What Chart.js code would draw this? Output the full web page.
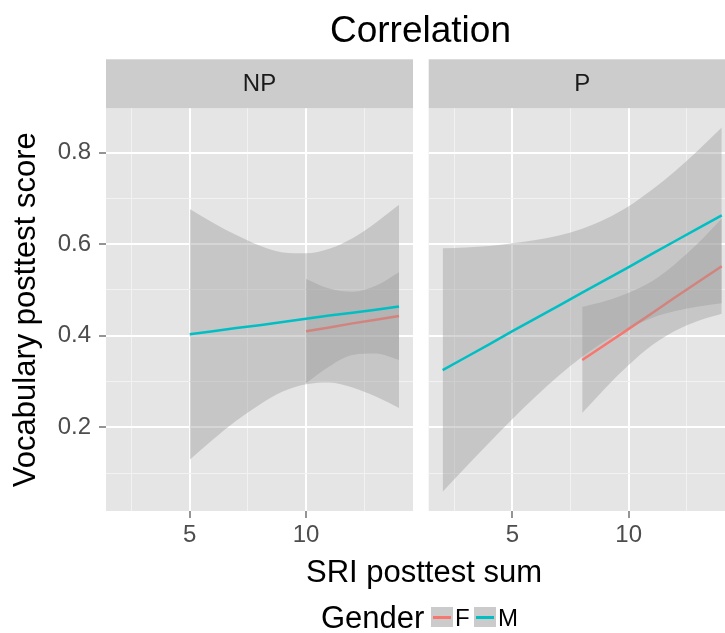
<!DOCTYPE html>
<html>
<head>
<meta charset="utf-8">
<title>Correlation</title>
<script src="https://cdn.jsdelivr.net/npm/chart.js@4.4.1/dist/chart.umd.min.js"></script>
<style>
    html, body { margin: 0; padding: 0; width: 725px; height: 633px; overflow: hidden; background: #fff; }
    body { position: relative; font-family: "Liberation Sans", Arial, sans-serif; }
    canvas { position: absolute; left: 0; top: 0; }
    .txt { position: absolute; line-height: 1; white-space: nowrap; }
    #title { left: 0; width: 841px; top: 11px; text-align: center; font-size: 37px; color: #000; }
    #xtitle { left: 0; width: 848px; top: 556px; text-align: center; font-size: 31px; color: #000; }
    #legendTitle { left: 321px; top: 602px; font-size: 31px; color: #000; }
    .key { position: absolute; width: 22px; height: 20px; background: #cbcbcb; top: 607px; }
    .key span { position: absolute; left: 2px; right: 2px; top: 9px; height: 2.5px; }
    .klabel { position: absolute; top: 606px; font-size: 24px; line-height: 1; color: #000; }
</style>
</head>
<body>
<canvas id="npChart" width="725" height="633"></canvas>
<canvas id="pChart" width="760" height="633"></canvas>
<div class="txt" id="title">Correlation</div>
<div class="txt" id="xtitle">SRI posttest sum</div>
<div class="txt" id="legendTitle">Gender</div>
<div id="legend"></div>

<script>
(() => {
    "use strict";

    // ====== Data ======
    const panels = ["NP", "P"];
    const seriesNames = ["F", "M"];
    const seriesColors = ["#F8766D", "#00BFC4"];

    const xMajor = [5, 10];
    const xMinor = [2.5, 7.5, 12.5];
    const yMajor = [0.2, 0.4, 0.6, 0.8];
    const yMinor = [0.1, 0.3, 0.5, 0.7];
    const xRange = [1.4, 14.6];
    const yRange = [0.017, 0.897];

    // NP panel - F
    const npF_x   = [10, 11, 12, 13, 14];
    const npF_fit = [0.410, 0.418, 0.427, 0.435, 0.443];
    const npF_hi  = [0.524, 0.503, 0.496, 0.509, 0.539];
    const npF_lo  = [0.296, 0.333, 0.358, 0.361, 0.347];

    // NP panel - M
    const npM_x   = [5, 6, 7, 8, 9, 10, 11, 12, 13, 14];
    const npM_fit = [0.403, 0.410, 0.417, 0.423, 0.430, 0.437, 0.444, 0.450, 0.457, 0.464];
    const npM_hi  = [0.677, 0.647, 0.620, 0.597, 0.582, 0.580, 0.590, 0.613, 0.647, 0.686];
    const npM_lo  = [0.129, 0.173, 0.214, 0.249, 0.278, 0.294, 0.298, 0.287, 0.267, 0.242];

    // P panel - F
    const pF_x   = [8, 9, 10, 11, 12, 13, 14];
    const pF_fit = [0.347, 0.381, 0.415, 0.449, 0.484, 0.518, 0.552];
    const pF_hi  = [0.463, 0.476, 0.494, 0.519, 0.557, 0.603, 0.656];
    const pF_lo  = [0.231, 0.286, 0.336, 0.379, 0.411, 0.433, 0.448];

    // P panel - M
    const pM_x   = [2, 3, 4, 5, 6, 7, 8, 9, 10, 11, 12, 13, 14];
    const pM_fit = [0.325, 0.353, 0.381, 0.410, 0.438, 0.466, 0.494, 0.522, 0.550, 0.579, 0.607, 0.635, 0.663];
    const pM_hi  = [0.591, 0.593, 0.596, 0.602, 0.609, 0.619, 0.634, 0.655, 0.683, 0.719, 0.760, 0.806, 0.855];
    const pM_lo  = [0.059, 0.113, 0.166, 0.218, 0.267, 0.313, 0.354, 0.389, 0.417, 0.439, 0.454, 0.464, 0.471];

    // ====== Styles ======
    const FONT = "'Liberation Sans', Arial, sans-serif";
    const PANEL_BG = "#E5E5E5";
    const STRIP_BG = "#CCCCCC";
    const BAND = "rgba(153,153,153,0.4)";
    const TICK_COLOR = "#4D4D4D";
    const STRIP_TOP = 59.3;
    const PANEL_TOP = 108.3;
    const XAXIS_H = 60;
    const PAD_BOTTOM = 633 - 511 - XAXIS_H;

    // ====== Helpers ======
    const pts = (xs, ys) => xs.map((x, i) => ({ x, y: ys[i] }));

    function groupSets(xs, fit, hi, lo, color, baseOrder) {
        return [
            {
                data: pts(xs, hi), fill: "+1", backgroundColor: BAND,
                borderColor: "rgba(0,0,0,0)", borderWidth: 0, pointRadius: 0,
                cubicInterpolationMode: "monotone", order: baseOrder + 2
            },
            {
                data: pts(xs, lo), fill: false,
                borderColor: "rgba(0,0,0,0)", borderWidth: 0, pointRadius: 0,
                cubicInterpolationMode: "monotone", order: baseOrder + 1
            },
            {
                data: pts(xs, fit), fill: false, borderColor: color,
                borderWidth: 2.5, pointRadius: 0, order: baseOrder
            }
        ];
    }

    const isMajor = (list, v) => list.includes(v);

    const panelPlugin = {
        id: "panel",
        beforeDraw(chart, args, opts) {
            const { ctx, chartArea: a } = chart;
            ctx.save();
            ctx.fillStyle = PANEL_BG;
            ctx.fillRect(a.left, a.top, a.right - a.left, a.bottom - a.top);
            ctx.fillStyle = STRIP_BG;
            ctx.fillRect(a.left, STRIP_TOP, a.right - a.left, a.top - STRIP_TOP);
            ctx.fillStyle = "#1A1A1A";
            ctx.font = "24px " + FONT;
            ctx.textAlign = "center";
            ctx.textBaseline = "middle";
            ctx.fillText(opts.label, (a.left + a.right) / 2, (STRIP_TOP + a.top) / 2 + 1);
            ctx.restore();
        }
    };

    function makeChart(canvasId, label, datasets, showY, padding) {
        return new Chart(document.getElementById(canvasId).getContext("2d"), {
            type: "line",
            data: { datasets },
            plugins: [panelPlugin],
            options: {
                responsive: false,
                animation: false,
                events: [],
                layout: { padding, autoPadding: false },
                plugins: {
                    legend: { display: false },
                    tooltip: { enabled: false },
                    panel: { label }
                },
                scales: {
                    x: {
                        type: "linear",
                        min: xRange[0],
                        max: xRange[1],
                        afterBuildTicks: (s) => {
                            s.ticks = [...xMinor, ...xMajor].sort((a, b) => a - b).map((v) => ({ value: v }));
                        },
                        afterFit: (s) => { s.height = XAXIS_H; },
                        border: { display: false },
                        grid: {
                            color: (c) => isMajor(xMajor, c.tick.value) ? "#FFFFFF" : "#F2F2F2",
                            lineWidth: (c) => isMajor(xMajor, c.tick.value) ? 2 : 1,
                            tickColor: (c) => isMajor(xMajor, c.tick.value) ? TICK_COLOR : "rgba(0,0,0,0)",
                            tickWidth: 1.2,
                            tickLength: 7
                        },
                        ticks: {
                            autoSkip: false,
                            maxRotation: 0,
                            padding: 3,
                            color: TICK_COLOR,
                            font: { family: FONT, size: 24 },
                            callback: (v) => isMajor(xMajor, v) ? String(v) : ""
                        }
                    },
                    y: {
                        type: "linear",
                        min: yRange[0],
                        max: yRange[1],
                        afterBuildTicks: (s) => {
                            s.ticks = [...yMinor, ...yMajor].sort((a, b) => a - b).map((v) => ({ value: v }));
                        },
                        afterFit: (s) => { s.width = showY ? 106 : 0; },
                        border: { display: false },
                        grid: {
                            color: (c) => isMajor(yMajor, c.tick.value) ? "#FFFFFF" : "#F2F2F2",
                            lineWidth: (c) => isMajor(yMajor, c.tick.value) ? 2 : 1,
                            tickColor: (c) => isMajor(yMajor, c.tick.value) ? TICK_COLOR : "rgba(0,0,0,0)",
                            tickWidth: 1.2,
                            tickLength: 7,
                            drawTicks: showY
                        },
                        ticks: {
                            display: showY,
                            autoSkip: false,
                            padding: 8,
                            color: TICK_COLOR,
                            font: { family: FONT, size: 24 },
                            callback: (v) => isMajor(yMajor, v) ? v.toFixed(1) : ""
                        },
                        title: {
                            display: showY,
                            text: "Vocabulary posttest score",
                            color: "#000",
                            font: { family: FONT, size: 31 },
                            padding: { top: 8, bottom: 0 }
                        }
                    }
                }
            }
        });
    }

    // ====== Charts ======
    const npSets = [
        ...groupSets(npF_x, npF_fit, npF_hi, npF_lo, seriesColors[0], 3),
        ...groupSets(npM_x, npM_fit, npM_hi, npM_lo, seriesColors[1], 0)
    ];
    const pSets = [
        ...groupSets(pF_x, pF_fit, pF_hi, pF_lo, seriesColors[0], 3),
        ...groupSets(pM_x, pM_fit, pM_hi, pM_lo, seriesColors[1], 0)
    ];

    makeChart("npChart", panels[0], npSets, true,
        { left: 0, top: PANEL_TOP, right: 725 - 413, bottom: PAD_BOTTOM });
    makeChart("pChart", panels[1], pSets, false,
        { left: 428.7, top: PANEL_TOP, right: 760 - 735.7, bottom: PAD_BOTTOM });

    // ====== Legend ======
    const legendEl = document.getElementById("legend");
    const keyLefts = [431, 474];
    const labelLefts = [455, 498];
    seriesNames.forEach((name, i) => {
        const key = document.createElement("div");
        key.className = "key";
        key.style.left = keyLefts[i] + "px";
        const line = document.createElement("span");
        line.style.background = seriesColors[i];
        key.appendChild(line);
        legendEl.appendChild(key);

        const lab = document.createElement("div");
        lab.className = "klabel";
        lab.style.left = labelLefts[i] + "px";
        lab.textContent = name;
        legendEl.appendChild(lab);
    });
})();
</script>
</body>
</html>
